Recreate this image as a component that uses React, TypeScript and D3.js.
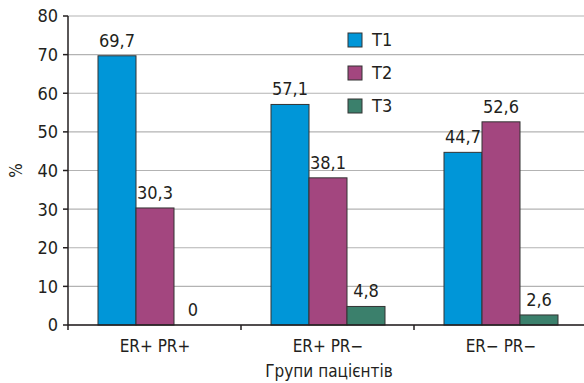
import React from "react";
import * as d3 from "d3";

const categories = ["ER+ PR+", "ER+ PR−", "ER− PR−"];
const seriesNames = ["T1", "T2", "T3"];
const t1Values = [69.7, 57.1, 44.7];
const t2Values = [30.3, 38.1, 52.6];
const t3Values = [0, 4.8, 2.6];
const yTicks = [0, 10, 20, 30, 40, 50, 60, 70, 80];
const colors = ["#0096d8", "#a3467f", "#3b806c"];

const W = 584;
const H = 383;
const left = 68;
const right = 587;
const top = 16;
const bottom = 325;
const font = "'Liberation Sans Narrow', 'DejaVu Sans Condensed', 'Roboto Condensed', sans-serif";

const fmt = (v: number) => (v === 0 ? "0" : v.toFixed(1).replace(".", ","));

export default function App() {
  const seriesValues = [t1Values, t2Values, t3Values];
  const x = d3.scaleBand<string>().domain(categories).range([left, right]);
  const inner = d3
    .scaleBand<string>()
    .domain(seriesNames)
    .range([30, 30 + 38 * 3]);
  const y = d3.scaleLinear().domain([0, 80]).range([bottom, top]);

  return (
    <svg
      width={W}
      height={H}
      style={{ position: "fixed", left: 0, top: 0, background: "#fff" }}
      fontFamily={font}
    >
      {/* gridlines */}
      {yTicks.map((t) => (
        <line
          key={"g" + t}
          x1={left}
          x2={W}
          y1={y(t)}
          y2={y(t)}
          stroke="#b3b3b3"
          strokeWidth={1.2}
        />
      ))}

      {/* bars */}
      {categories.map((c, ci) =>
        seriesNames.map((s, si) => {
          const v = seriesValues[si][ci];
          const bx = (x(c) as number) + (inner(s) as number);
          const bw = inner.bandwidth();
          return (
            <g key={c + s}>
              {v > 0 && (
                <rect
                  x={bx}
                  y={y(v)}
                  width={bw}
                  height={y(0) - y(v)}
                  fill={colors[si]}
                  stroke="#333"
                  strokeWidth={1}
                />
              )}
              <text
                x={bx + bw / 2}
                y={y(v) - 9}
                textAnchor="middle"
                fontSize={18}
                fill="#231f20"
              >
                {fmt(v)}
              </text>
            </g>
          );
        })
      )}

      {/* y axis */}
      <line x1={left} x2={left} y1={top} y2={bottom} stroke="#231f20" strokeWidth={1.5} />
      {yTicks.map((t) => (
        <g key={"t" + t}>
          <line x1={left - 5} x2={left} y1={y(t)} y2={y(t)} stroke="#231f20" strokeWidth={1.5} />
          <text
            x={left - 10}
            y={y(t)}
            dy="0.36em"
            textAnchor="end"
            fontSize={18}
            fill="#231f20"
          >
            {t}
          </text>
        </g>
      ))}
      <text
        transform={`translate(22, ${(top + bottom) / 2}) rotate(-90)`}
        textAnchor="middle"
        fontSize={17}
        fill="#231f20"
      >
        %
      </text>

      {/* x axis */}
      <line x1={left} x2={W} y1={bottom} y2={bottom} stroke="#231f20" strokeWidth={1.5} />
      {[...categories.map((c) => x(c) as number), right].map((px, i) => (
        <line key={"xt" + i} x1={px} x2={px} y1={bottom} y2={bottom + 5} stroke="#231f20" strokeWidth={1.5} />
      ))}
      {categories.map((c) => (
        <text
          key={"xl" + c}
          x={(x(c) as number) + inner(seriesNames[1])! + inner.bandwidth() / 2}
          y={bottom + 27}
          textAnchor="middle"
          fontSize={17}
          fill="#231f20"
        >
          {c}
        </text>
      ))}
      <text x={329} y={377} textAnchor="middle" fontSize={17} fill="#231f20">
        Групи пацієнтів
      </text>

      {/* legend */}
      {seriesNames.map((s, i) => (
        <g key={"lg" + s} transform={`translate(348, ${40 + i * 33})`}>
          <rect x={0} y={-7} width={14} height={14} fill={colors[i]} stroke="#333" strokeWidth={1} />
          <text x={24} y={0} dy="0.36em" fontSize={18} fill="#231f20">
            {s}
          </text>
        </g>
      ))}
    </svg>
  );
}
